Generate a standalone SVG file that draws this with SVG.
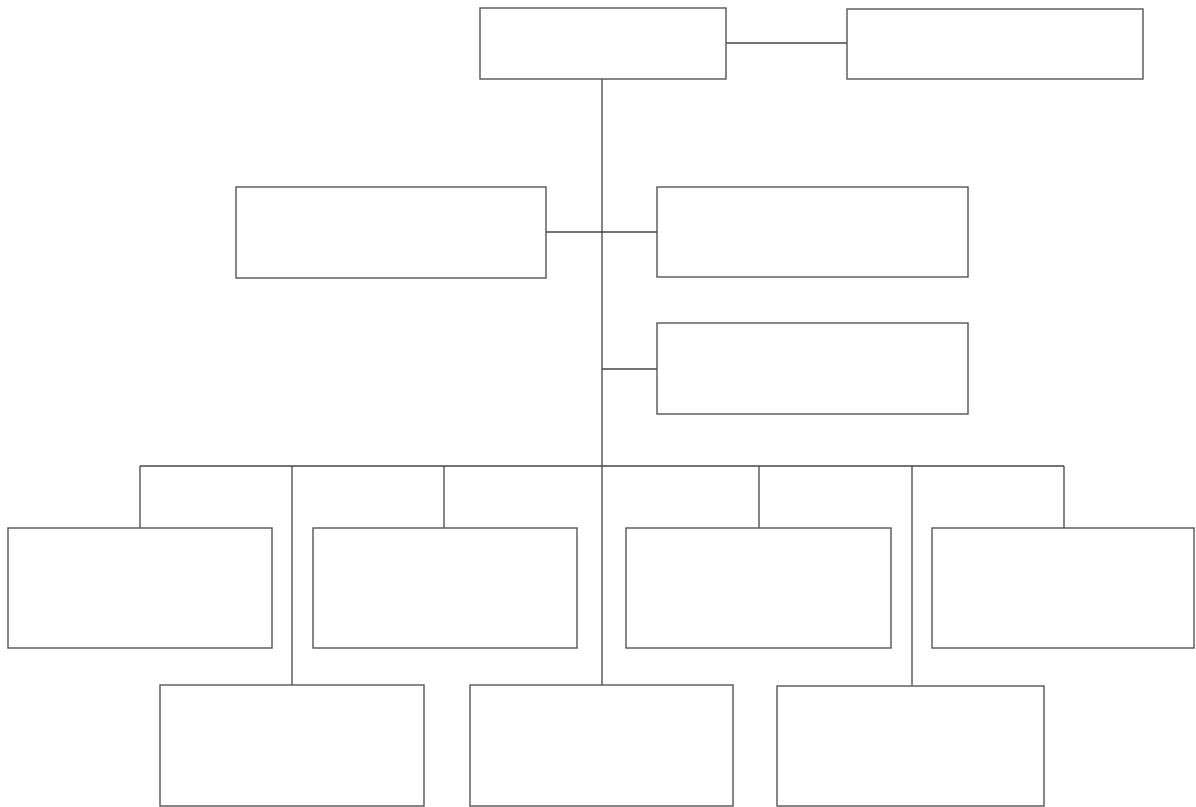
<svg xmlns="http://www.w3.org/2000/svg" width="1196" height="807" viewBox="0 0 1196 807">
<style>
.n rect{fill:#fff;stroke:#555;stroke-width:1.4}
#connectors line,#connectors polyline{fill:none;stroke:#444;stroke-width:1.3}
</style>
<rect width="1196" height="807" fill="#fff"/>
<g id="connectors">
<line x1="726" y1="43" x2="847" y2="43"/>
<line x1="602" y1="79" x2="602" y2="685"/>
<line x1="546" y1="232" x2="657" y2="232"/>
<line x1="602" y1="369" x2="657" y2="369"/>
<line x1="140" y1="466" x2="1064" y2="466"/>
<line x1="140" y1="466" x2="140" y2="528"/>
<line x1="444" y1="466" x2="444" y2="528"/>
<line x1="759" y1="466" x2="759" y2="528"/>
<line x1="1064" y1="466" x2="1064" y2="528"/>
<line x1="292" y1="466" x2="292" y2="685"/>
<line x1="912" y1="466" x2="912" y2="685"/>
</g>
<g id="top" class="n"><rect x="480" y="8" width="246" height="71"/></g>
<g id="topRight" class="n"><rect x="847" y="9" width="296" height="70"/></g>
<g id="midLeft" class="n"><rect x="236" y="187" width="310" height="91"/></g>
<g id="midRight" class="n"><rect x="657" y="187" width="311" height="90"/></g>
<g id="mid2Right" class="n"><rect x="657" y="323" width="311" height="91"/></g>
<g id="row1a" class="n"><rect x="8" y="528" width="264" height="120"/></g>
<g id="row1b" class="n"><rect x="313" y="528" width="264" height="120"/></g>
<g id="row1c" class="n"><rect x="626" y="528" width="265" height="120"/></g>
<g id="row1d" class="n"><rect x="932" y="528" width="262" height="120"/></g>
<g id="row2a" class="n"><rect x="160" y="685" width="264" height="121"/></g>
<g id="row2b" class="n"><rect x="470" y="685" width="263" height="121"/></g>
<g id="row2c" class="n"><rect x="777" y="686" width="267" height="120"/></g>
</svg>
